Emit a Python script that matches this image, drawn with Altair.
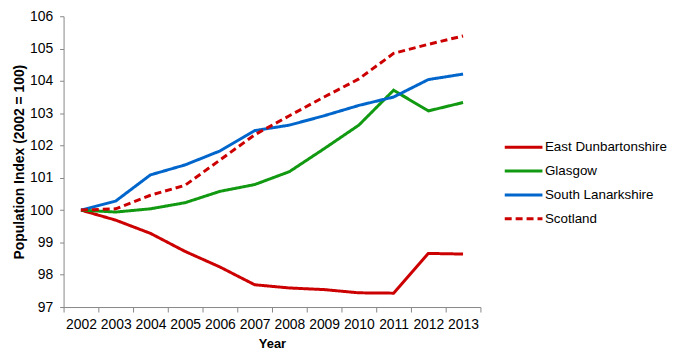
import altair as alt
import pandas as pd

years = [str(y) for y in range(2002, 2014)]
east_dunbartonshire = [100, 99.69, 99.28, 98.72, 98.24, 97.69, 97.59, 97.54, 97.44, 97.43, 98.66, 98.64]
glasgow = [100, 99.94, 100.04, 100.23, 100.58, 100.79, 101.19, 101.90, 102.63, 103.71, 103.07, 103.33]
south_lanarkshire = [100, 100.28, 101.09, 101.40, 101.83, 102.46, 102.63, 102.92, 103.24, 103.50, 104.04, 104.21]
scotland = [100, 100.04, 100.46, 100.77, 101.55, 102.33, 102.92, 103.50, 104.06, 104.85, 105.13, 105.39]

series_names = ["East Dunbartonshire", "Glasgow", "South Lanarkshire", "Scotland"]
series_values = [east_dunbartonshire, glasgow, south_lanarkshire, scotland]
colors = ["#cc0000", "#119911", "#0066cc", "#cc0000"]
dashes = [[1, 0], [1, 0], [1, 0], [7, 4]]
y_ticks = list(range(97, 107))

rows = []
for name, vals in zip(series_names, series_values):
    for yr, v in zip(years, vals):
        rows.append({"Year": yr, "Series": name, "Index": v})
df = pd.DataFrame(rows)

FONT = "Liberation Sans"
AXIS_COLOR = "#878787"


def make_legend():
    return alt.Legend(title=None, orient="none", legendX=443, legendY=124,
                      symbolType="stroke", symbolStrokeWidth=3,
                      symbolSize=1444, labelFontSize=13.5, labelFont=FONT,
                      labelColor="#000000", labelOffset=1, rowPadding=8,
                      clipHeight=16, labelLimit=200)


chart = alt.Chart(df).mark_line(strokeWidth=3, strokeCap="butt").encode(
    x=alt.X("Year:O", title="Year",
            scale=alt.Scale(type="band", paddingInner=0, paddingOuter=0),
            axis=alt.Axis(labelAngle=0, tickBand="extent", tickSize=5, labelPadding=6,
                          titleY=31, titleFontSize=13, titleFontWeight="bold")),
    y=alt.Y("Index:Q", title="Population Index (2002 = 100)",
            scale=alt.Scale(domain=[97, 106], nice=False, zero=False),
            axis=alt.Axis(values=y_ticks, tickSize=4, labelPadding=7, grid=False,
                          titleX=-37, titleFontSize=14, titleFontWeight="bold")),
    color=alt.Color("Series:N", sort=series_names,
                    scale=alt.Scale(domain=series_names, range=colors),
                    legend=make_legend()),
    strokeDash=alt.StrokeDash("Series:N", sort=series_names,
                              scale=alt.Scale(domain=series_names, range=dashes),
                              legend=make_legend()),
).properties(
    width=420, height=293,
    autosize=alt.AutoSizeParams(type="none"),
    padding={"left": 56, "top": 7, "right": 190, "bottom": 45},
).configure_axis(
    labelFont=FONT, titleFont=FONT, labelFontSize=14, labelColor="#000000",
    titleColor="#000000", domainColor=AXIS_COLOR, tickColor=AXIS_COLOR,
    domainWidth=1, tickWidth=1,
).configure_view(stroke=None)

chart.save("out.html", embed_options={"renderer": "svg", "actions": False})
